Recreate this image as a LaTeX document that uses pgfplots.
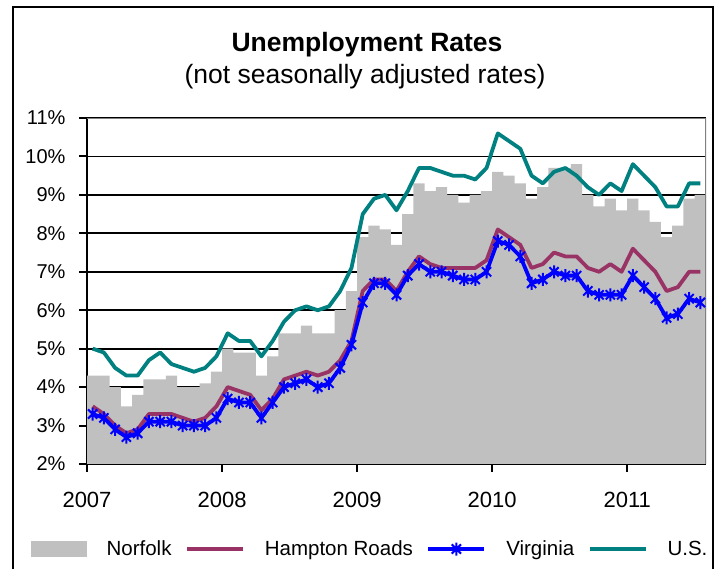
\documentclass[border=0pt]{standalone}
\usepackage{pgfplots}
\pgfplotsset{compat=1.18}
\usepackage{pgfplotstable}
\usepackage{fontspec}
\setmainfont{Liberation Sans}

\definecolor{norfolkc}{RGB}{192,192,192}
\definecolor{hamptonc}{RGB}{153,51,102}
\definecolor{virginiac}{RGB}{0,0,255}
\definecolor{usc}{RGB}{0,128,128}
\definecolor{frameg}{RGB}{128,128,128}

\pgfdeclareplotmark{xstar}{%
  \pgfpathmoveto{\pgfqpoint{0pt}{\pgfplotmarksize}}%
  \pgfpathlineto{\pgfqpoint{0pt}{-\pgfplotmarksize}}%
  \pgfpathmoveto{\pgfqpoint{-.7071\pgfplotmarksize}{.7071\pgfplotmarksize}}%
  \pgfpathlineto{\pgfqpoint{.7071\pgfplotmarksize}{-.7071\pgfplotmarksize}}%
  \pgfpathmoveto{\pgfqpoint{-.7071\pgfplotmarksize}{-.7071\pgfplotmarksize}}%
  \pgfpathlineto{\pgfqpoint{.7071\pgfplotmarksize}{.7071\pgfplotmarksize}}%
  \pgfusepathqstroke}

% month index m = 0 (Jan 2007) ... 54 (Jul 2011)
\pgfplotstableread{
m v
0 4.3
1 4.3
2 4.0
3 3.5
4 3.8
5 4.2
6 4.2
7 4.3
8 4.0
9 4.0
10 4.1
11 4.4
12 5.0
13 4.9
14 4.9
15 4.3
16 4.8
17 5.4
18 5.4
19 5.6
20 5.4
21 5.4
22 6.0
23 6.5
24 7.9
25 8.2
26 8.1
27 7.7
28 8.5
29 9.3
30 9.1
31 9.2
32 9.0
33 8.8
34 9.0
35 9.1
36 9.6
37 9.5
38 9.3
39 8.9
40 9.2
41 9.7
42 9.7
43 9.8
44 9.0
45 8.7
46 8.9
47 8.6
48 8.9
49 8.6
50 8.3
51 7.9
52 8.2
53 8.9
54 9.0
55 9.0
}\norfolk

\pgfplotstableread{
m v
0 3.5
1 3.3
2 3.0
3 2.8
4 2.9
5 3.3
6 3.3
7 3.3
8 3.2
9 3.1
10 3.2
11 3.5
12 4.0
13 3.9
14 3.8
15 3.4
16 3.7
17 4.2
18 4.3
19 4.4
20 4.3
21 4.4
22 4.7
23 5.2
24 6.5
25 6.8
26 6.8
27 6.5
28 7.0
29 7.4
30 7.2
31 7.1
32 7.1
33 7.1
34 7.1
35 7.3
36 8.1
37 7.9
38 7.7
39 7.1
40 7.2
41 7.5
42 7.4
43 7.4
44 7.1
45 7.0
46 7.2
47 7.0
48 7.6
49 7.3
50 7.0
51 6.5
52 6.6
53 7.0
54 7.0
}\hampton

\pgfplotstableread{
m v
0 3.3
1 3.2
2 2.9
3 2.7
4 2.8
5 3.1
6 3.1
7 3.1
8 3.0
9 3.0
10 3.0
11 3.2
12 3.7
13 3.6
14 3.6
15 3.2
16 3.6
17 4.0
18 4.1
19 4.2
20 4.0
21 4.1
22 4.5
23 5.1
24 6.2
25 6.7
26 6.7
27 6.4
28 6.9
29 7.2
30 7.0
31 7.0
32 6.9
33 6.8
34 6.8
35 7.0
36 7.8
37 7.7
38 7.4
39 6.7
40 6.8
41 7.0
42 6.9
43 6.9
44 6.5
45 6.4
46 6.4
47 6.4
48 6.9
49 6.6
50 6.3
51 5.8
52 5.9
53 6.3
54 6.2
}\virginia

\pgfplotstableread{
m v
0 5.0
1 4.9
2 4.5
3 4.3
4 4.3
5 4.7
6 4.9
7 4.6
8 4.5
9 4.4
10 4.5
11 4.8
12 5.4
13 5.2
14 5.2
15 4.8
16 5.2
17 5.7
18 6.0
19 6.1
20 6.0
21 6.1
22 6.5
23 7.1
24 8.5
25 8.9
26 9.0
27 8.6
28 9.1
29 9.7
30 9.7
31 9.6
32 9.5
33 9.5
34 9.4
35 9.7
36 10.6
37 10.4
38 10.2
39 9.5
40 9.3
41 9.6
42 9.7
43 9.5
44 9.2
45 9.0
46 9.3
47 9.1
48 9.8
49 9.5
50 9.2
51 8.7
52 8.7
53 9.3
54 9.3
}\us

\begin{document}
\begin{tikzpicture}
\useasboundingbox (0pt,0pt) rectangle (717pt,569pt);
\begin{axis}[
  at={(87pt,105pt)}, anchor=south west,
  scale only axis, width=619pt, height=346pt,
  xmin=0, xmax=55, ymin=2, ymax=11,
  axis lines=left,
  axis line style={-, line width=2pt, black},
  ytick={2,3,...,11},
  yticklabel={\pgfmathprintnumber{\tick}\%},
  xtick={0,12,24,36,48},
  xticklabels={2007,2008,2009,2010,2011},
  tick align=outside,
  major tick length=8pt,
  tick style={black, line width=2pt},
  ymajorgrids,
  grid style={black, line width=1.7pt},
  /pgf/number format/assume math mode=true,
  yticklabel style={font=\fontsize{20}{24}\selectfont, xshift=-10pt},
  xticklabel style={font=\fontsize{22}{26}\selectfont, yshift=-17pt},
  legend columns=4,
  legend style={at={(0.4556,-0.2457)}, anchor=center, draw=none, fill=none,
    font=\fontsize{20.5}{24}\selectfont, nodes={inner sep=0pt},
    /tikz/every odd column/.style={column sep=20pt},
    /tikz/every even column/.style={column sep=13.5pt}},
  line join=round,
]
\addplot[ybar interval, fill=norfolkc, draw=none,
  legend image code/.code={\fill[norfolkc] (0pt,-8pt) rectangle (56pt,8pt);}]
  table[x=m, y=v]{\norfolk};
\addlegendentry{Norfolk}
\addplot[hamptonc, line width=3.8pt, mark=none,
  legend image code/.code={\draw[hamptonc, line width=3.8pt] (0pt,0pt) -- (56pt,0pt);}]
  table[x expr=\thisrow{m}+0.5, y=v]{\hampton};
\addlegendentry{Hampton Roads}
\addplot[virginiac, line width=3.8pt, mark=xstar, mark size=6.5pt,
  mark options={line width=2pt},
  legend image code/.code={\draw[virginiac, line width=3.8pt] (0pt,0pt) -- (56pt,0pt);
    \draw[virginiac, line width=2pt] plot[mark=xstar, mark size=6.5pt] coordinates {(28pt,0pt)};}]
  table[x expr=\thisrow{m}+0.5, y=v]{\virginia};
\addlegendentry{Virginia}
\addplot[usc, line width=3.8pt, mark=none,
  legend image code/.code={\draw[usc, line width=3.8pt] (0pt,0pt) -- (56pt,0pt);}]
  table[x expr=\thisrow{m}+0.5, y=v]{\us};
\addlegendentry{U.S.}
\draw[frameg, line width=2pt] (rel axis cs:0,1) -- (rel axis cs:1,1) -- (rel axis cs:1,0);
\end{axis}
\node[anchor=base, font=\bfseries\fontsize{26.5}{30}\selectfont] at (367pt,517pt) {Unemployment Rates};
\node[anchor=base, font=\fontsize{26.5}{30}\selectfont] at (365pt,485pt) {(not seasonally adjusted rates)};
\draw[black, line width=2pt] (13pt,-10pt) -- (13pt,562pt) -- (713pt,562pt) -- (713pt,-10pt);
\end{tikzpicture}
\end{document}
